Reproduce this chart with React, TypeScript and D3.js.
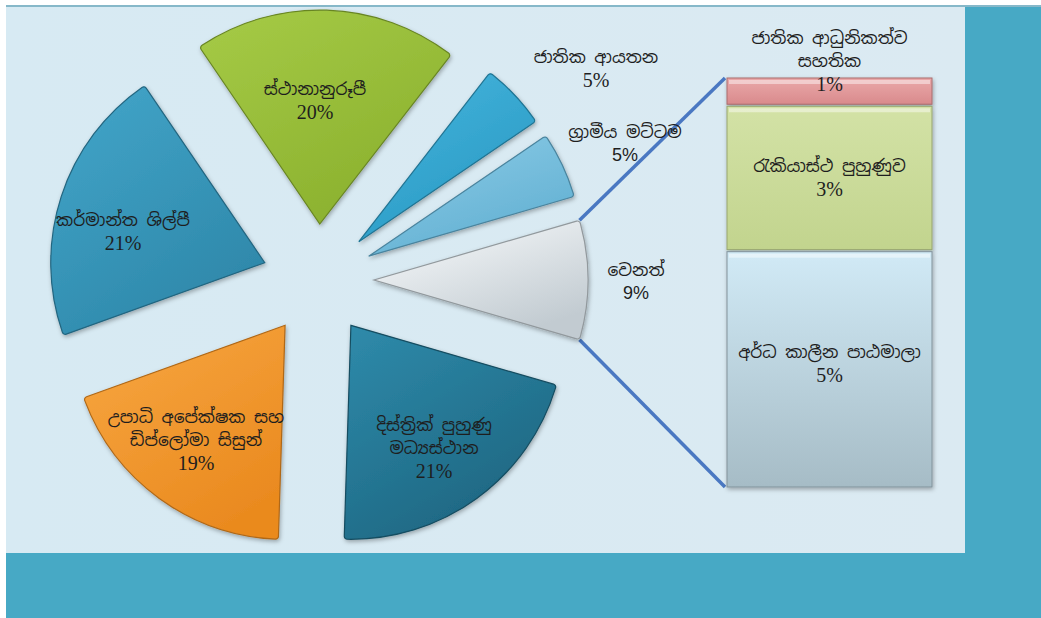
import React from "react";
import * as d3 from "d3";

// ---- data ----
const pieCategories = [
  "වෙනත්",
  "දිස්ත්‍රික් පුහුණු මධ්‍යස්ථාන",
  "උපාධි අපේක්ෂක සහ ඩිප්ලෝමා සිසුන්",
  "කර්මාන්ත ශිල්පී",
  "ස්ථානානුරූපී",
  "ජාතික ආයතන",
  "ග්‍රාමීය මට්ටම",
];
const pieValues = [9, 21, 19, 21, 20, 5, 5];
const piePercentLabels = ["9%", "21%", "19%", "21%", "20%", "5%", "5%"];
const pieLabelLines = [
  ["වෙනත්"],
  ["දිස්ත්‍රික් පුහුණු", "මධ්‍යස්ථාන"],
  ["උපාධි අපේක්ෂක සහ", "ඩිප්ලෝමා සිසුන්"],
  ["කර්මාන්ත ශිල්පී"],
  ["ස්ථානානුරූපී"],
  ["ජාතික ආයතන"],
  ["ග්‍රාමීය මට්ටම"],
];

const barCategories = ["ජාතික ආධුනිකත්ව සහතික", "රැකියාස්ථ පුහුණුව", "අර්ධ කාලීන පාඨමාලා"];
const barValues = [0.6, 3.2, 5.2];
const barPercentLabels = ["1%", "3%", "5%"];
const barLabelLines = [["ජාතික ආධුනිකත්ව", "සහතික"], ["රැකියාස්ථ පුහුණුව"], ["අර්ධ කාලීන පාඨමාලා"]];

// ---- styles / layout ----
const W = 1041;
const H = 618;
const CX = 318;
const CY = 280;
const R = 214;
const EXPLODE = 56;
const sliceColors = [
  ["#fbfdfe", "#c2cbd1"],
  ["#2f8bab", "#1d6681"],
  ["#f8a843", "#ea8a1f"],
  ["#43a6ca", "#2e88aa"],
  ["#a6cb47", "#8bb12e"],
  ["#46b6de", "#2a9ac4"],
  ["#8dcde8", "#62b0d2"],
];
const pieLabelOffsets = [
  [318, 1],
  [116, 168],
  [-122, 160],
  [-195, -49],
  [-3, -180],
  [278, -212],
  [307, -137],
];
const pieLabelFonts = ["Liberation Sans", "Liberation Serif", "Liberation Serif", "Liberation Serif", "Liberation Serif", "Liberation Serif", "Liberation Sans"];
const barColors = [
  ["#eaa9aa", "#d98a8c"],
  ["#d3e2a6", "#c2d48e"],
  ["#d1eaf6", "#a6bcc6"],
];
const barLabelShift = [-30, 0, -6];
const BAR_X = 727;
const BAR_W = 205;
const BAR_TOP = 78;
const BAR_BOTTOM = 487;
const GAP = 2;
const LINE_H = 23;
const FONT_SIZE = 17;
const PCT_SERIF_SIZE = 20;
const PCT_SANS_SIZE = 18;
const SINHALA = "'Iskoola Pota', 'Noto Sans Sinhala', 'Liberation Serif', serif";

export default function App() {
  const total = d3.sum(pieValues);
  const otherAngle = (pieValues[0] / total) * 2 * Math.PI;
  const start = Math.PI / 2 - otherAngle / 2;
  const pie = d3
    .pie<number>()
    .sort(null)
    .value((d) => d)
    .startAngle(start)
    .endAngle(start + 2 * Math.PI);
  const arcs = pie(pieValues);
  const arcGen = d3.arc<d3.PieArcDatum<number>>().innerRadius(0).outerRadius(R).cornerRadius(3);

  const offsetOf = (a: d3.PieArcDatum<number>) => {
    const mid = (a.startAngle + a.endAngle) / 2;
    return [Math.sin(mid) * EXPLODE, -Math.cos(mid) * EXPLODE];
  };

  const o = arcs[0];
  const [oox, ooy] = offsetOf(o);
  const cornerTop = [CX + oox + Math.sin(o.startAngle) * R, CY + ooy - Math.cos(o.startAngle) * R];
  const cornerBot = [CX + oox + Math.sin(o.endAngle) * R, CY + ooy - Math.cos(o.endAngle) * R];

  const barTotal = d3.sum(barValues);
  const y = d3.scaleLinear().domain([0, barTotal]).range([BAR_TOP, BAR_BOTTOM]);
  const cum = d3.cumsum(barValues);
  const segs = barValues.map((v, i) => {
    const s = i === 0 ? 0 : cum[i - 1];
    const e = cum[i];
    return { y0: y(s) + (i === 0 ? 0 : GAP / 2), y1: y(e) - (i === barValues.length - 1 ? 0 : GAP / 2) };
  });

  const renderLines = (lines: string[], x: number, cy: number, fonts: string[], sizes: number[], key: string) => {
    const n = lines.length;
    return lines.map((t, i) => (
      <text
        key={key + i}
        x={x}
        y={cy + (i - (n - 1) / 2) * LINE_H}
        textAnchor="middle"
        dominantBaseline="central"
        fontSize={sizes[i]}
        fontFamily={fonts[i]}
        fill="#1e1e1e"
      >
        {t}
      </text>
    ));
  };

  return (
    <div style={{ position: "absolute", left: 0, top: 0 }}>
      <svg width={W} height={H} style={{ display: "block" }}>
        <defs>
          {sliceColors.map((c, i) => (
            <linearGradient key={i} id={`sg${i}`} x1="0" y1="0" x2="0.6" y2="1">
              <stop offset="0%" stopColor={c[0]} />
              <stop offset="100%" stopColor={c[1]} />
            </linearGradient>
          ))}
          {barColors.map((c, i) => (
            <linearGradient key={i} id={`bg${i}`} x1="0" y1="0" x2="0" y2="1">
              <stop offset="0%" stopColor={c[0]} />
              <stop offset="100%" stopColor={c[1]} />
            </linearGradient>
          ))}
          <filter id="sh" x="-20%" y="-20%" width="140%" height="140%">
            <feDropShadow dx="1" dy="2" stdDeviation="2" floodColor="#000" floodOpacity="0.3" />
          </filter>
          <linearGradient id="panel" x1="0" y1="0" x2="1" y2="0">
            <stop offset="0%" stopColor="#d7eaf3" />
            <stop offset="100%" stopColor="#dbeaf2" />
          </linearGradient>
        </defs>
        <rect x={0} y={0} width={W} height={H} fill="#ffffff" />
        <rect x={6} y={5} width={W - 6} height={H - 5} fill="#47a9c5" />
        <rect x={6} y={5} width={W - 6} height={2} fill="#86b8c9" />
        <rect x={6} y={7} width={959} height={546} fill="url(#panel)" />

        <line x1={cornerTop[0]} y1={cornerTop[1]} x2={BAR_X - 2} y2={BAR_TOP} stroke="#4a78c2" strokeWidth={3.5} />
        <line x1={cornerBot[0]} y1={cornerBot[1]} x2={BAR_X - 2} y2={BAR_BOTTOM} stroke="#4a78c2" strokeWidth={3.5} />

        {arcs.map((a, i) => {
          const [ox, oy] = offsetOf(a);
          return (
            <g key={i} transform={`translate(${CX + ox},${CY + oy})`} filter="url(#sh)">
              <path
                d={arcGen(a) || ""}
                fill={`url(#sg${i})`}
                stroke={d3.color(sliceColors[i][1])!.darker(0.8).formatHex()}
                strokeWidth={1.2}
              />
            </g>
          );
        })}

        {segs.map((s, i) => (
          <g key={i} filter="url(#sh)">
            <rect
              x={BAR_X}
              y={s.y0}
              width={BAR_W}
              height={s.y1 - s.y0}
              fill={`url(#bg${i})`}
              stroke={d3.color(barColors[i][1])!.darker(0.7).formatHex()}
              strokeWidth={1}
            />
            <rect x={BAR_X + 2} y={s.y0 + 2} width={BAR_W - 4} height={4} fill="#ffffff" fillOpacity={0.45} />
          </g>
        ))}

        {arcs.map((a, i) => {
          const lines = [...pieLabelLines[i], piePercentLabels[i]];
          const last = lines.length - 1;
          const fonts = lines.map((_, k) => (k === last ? pieLabelFonts[i] : SINHALA));
          const sizes = lines.map((_, k) =>
            k === last ? (pieLabelFonts[i] === "Liberation Sans" ? PCT_SANS_SIZE : PCT_SERIF_SIZE) : FONT_SIZE
          );
          return (
            <g key={i}>
              {renderLines(lines, CX + pieLabelOffsets[i][0], CY + pieLabelOffsets[i][1], fonts, sizes, `pl${i}`)}
            </g>
          );
        })}

        {segs.map((s, i) => {
          const lines = [...barLabelLines[i], barPercentLabels[i]];
          const last = lines.length - 1;
          const fonts = lines.map((_, k) => (k === last ? "Liberation Serif" : SINHALA));
          const sizes = lines.map((_, k) => (k === last ? PCT_SERIF_SIZE : FONT_SIZE));
          return (
            <g key={i}>
              {renderLines(lines, BAR_X + BAR_W / 2, (s.y0 + s.y1) / 2 + barLabelShift[i], fonts, sizes, `bl${i}`)}
            </g>
          );
        })}
      </svg>
    </div>
  );
}
